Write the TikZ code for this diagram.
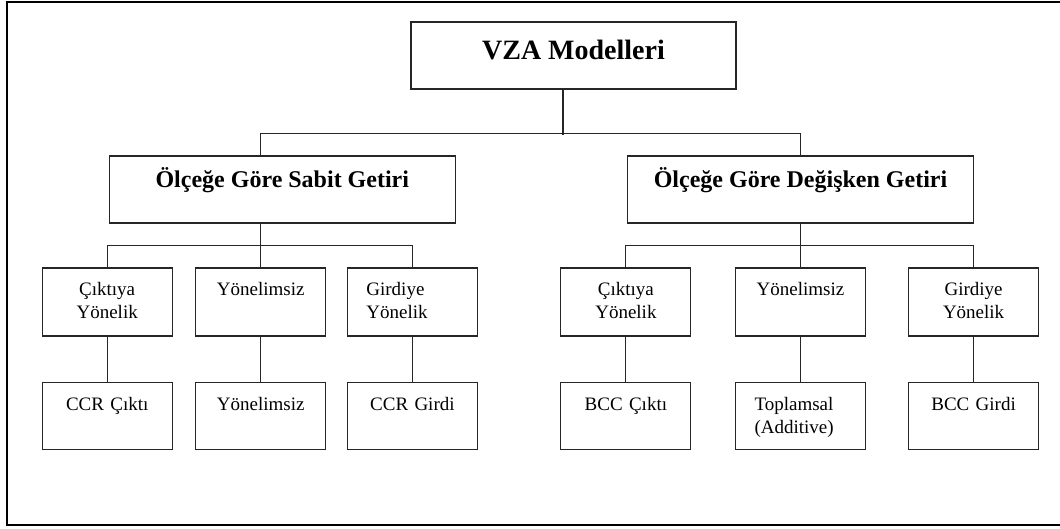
\documentclass[tikz,border=0pt]{standalone}
\usepackage{fontspec}
\setmainfont{Liberation Serif}
\usetikzlibrary{positioning}

\begin{document}
\begin{tikzpicture}[x=1pt, y=-1pt,
    box/.style={rectangle, draw=black!85, line width=1.1pt, inner sep=0pt, align=center},
    topbox/.style={box, minimum width=325pt, text height=38pt, text depth=29pt, font=\fontsize{28}{34}\selectfont\bfseries},
    midbox/.style={box, minimum width=346pt, text height=32pt, text depth=35pt, font=\fontsize{24}{29}\selectfont\bfseries},
    leafbox/.style={box, text width=92pt, inner xsep=19pt, text height=28pt, text depth=40pt, font=\fontsize{19}{23}\selectfont},
    modelbox/.style={leafbox, text depth=39pt},
    link/.style={draw=black!85, line width=1.1pt}]
  \useasboundingbox (0,0) rectangle (1060,529);
  \draw[line width=2pt] (1066,2) -- (7,2) -- (7,525) -- (1066,525);

  \node (vza) [topbox] at (573.5,55.5) {VZA Modelleri};
  \node (sabit) [midbox] at (282.3,189.5) {Ölçeğe Göre Sabit Getiri};
  \node (degisken) [midbox] at (800.5,189.5) {Ölçeğe Göre Değişken Getiri};

  % sabit getiri
  \node (sc2) [leafbox] at (260.7,302) {Yönelimsiz};
  \node (sc1) [leafbox, left=22.4pt of sc2] {Çıktıya\\Yönelik};
  \node (sc3) [leafbox, right=20.6pt of sc2, align=left] {Girdiye\\Yönelik};
  \node (ccrout) [modelbox, below=45pt of sc1] {CCR Çıktı};
  \node (ccrnon) [modelbox, below=45pt of sc2] {Yönelimsiz};
  \node (ccrin) [modelbox, below=45pt of sc3, align=center] {CCR Girdi};

  % degisken getiri
  \node (dc2) [leafbox] at (800.5,302) {Yönelimsiz};
  \node (dc1) [leafbox, left=43.5pt of dc2] {Çıktıya\\Yönelik};
  \node (dc3) [leafbox, right=42pt of dc2] {Girdiye\\Yönelik};
  \node (bccout) [modelbox, below=45pt of dc1] {BCC Çıktı};
  \node (additive) [modelbox, below=45pt of dc2, align=left] {Toplamsal\\(Additive)};
  \node (bccin) [modelbox, below=45pt of dc3] {BCC Girdi};

  \draw[link] ([xshift=-10.5pt]vza.south) -- ++(0,45) coordinate (vzabus);
  \draw[link] (sabit.north -| sc2.north) -- ++(0,-22) -| (degisken.north);
  \draw[link] (sabit.south -| sc2.north) -- (sc2.north);
  \draw[link] (sc1.north) -- ++(0,-22) -| (sc3.north);
  \draw[link] (degisken.south) -- (dc2.north);
  \draw[link] (dc1.north) -- ++(0,-22) -| (dc3.north);
  \draw[link] (sc1) -- (ccrout);
  \draw[link] (sc2) -- (ccrnon);
  \draw[link] (sc3) -- (ccrin);
  \draw[link] (dc1) -- (bccout);
  \draw[link] (dc2) -- (additive);
  \draw[link] (dc3) -- (bccin);
\end{tikzpicture}
\end{document}
